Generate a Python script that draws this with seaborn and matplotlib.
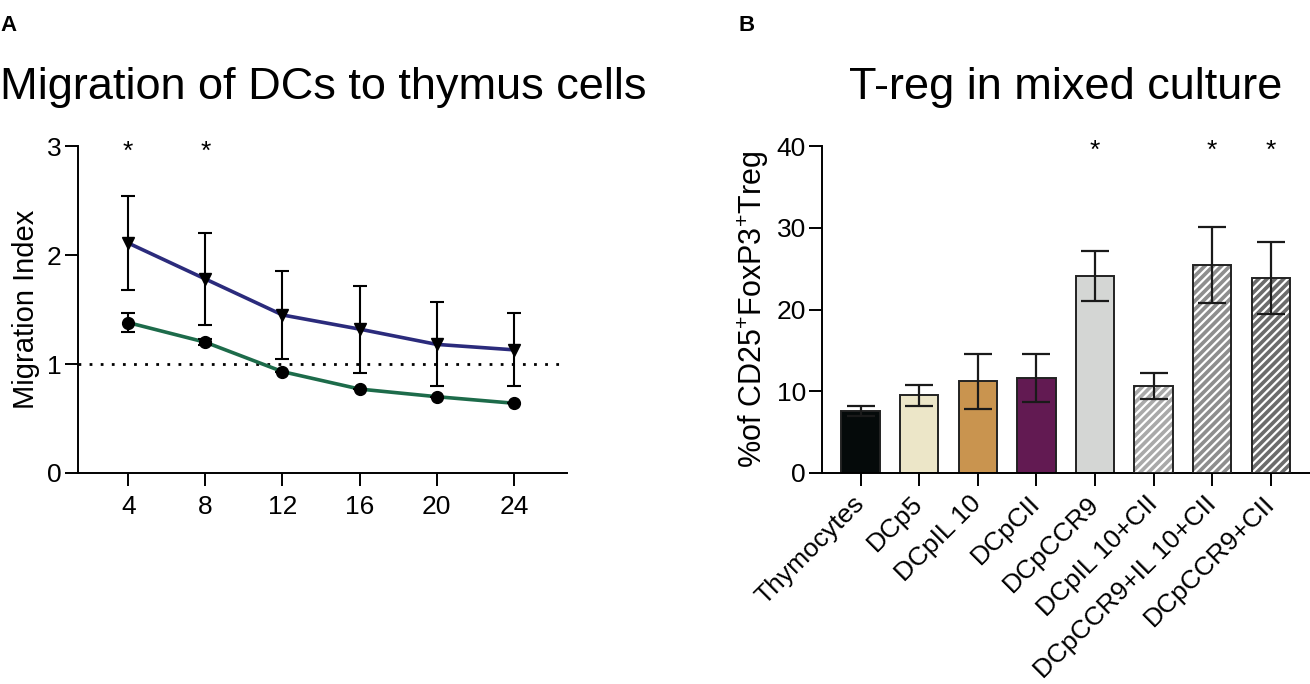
import matplotlib
matplotlib.use("Agg")
import matplotlib.pyplot as plt
import numpy as np
import pandas as pd
import seaborn as sns

# Panel A data: migration index over time
hours = [4, 8, 12, 16, 20, 24]
upper_mean = [2.11, 1.78, 1.45, 1.32, 1.18, 1.13]
upper_err = [0.43, 0.42, 0.40, 0.40, 0.385, 0.335]
lower_mean = [1.38, 1.20, 0.93, 0.77, 0.70, 0.64]
lower_err = [0.09, 0.03, 0.0, 0.0, 0.0, 0.0]
star_hours = [4, 8]

# Panel B data: Treg percentages
groups = ["Thymocytes", "DCp5", "DCpIL10", "DCpCII", "DCpCCR9",
          "DCpIL10+CII", "DCpCCR9+IL10+CII", "DCpCCR9+CII"]
tick_labels = ["Thymocytes", "DCp5", "DCpIL 10", "DCpCII", "DCpCCR9",
               "DCpIL 10+CII", "DCpCCR9+IL 10+CII", "DCpCCR9+CII"]
treg_mean = [7.6, 9.5, 11.2, 11.6, 24.1, 10.65, 25.4, 23.9]
treg_err = [0.65, 1.25, 3.4, 2.95, 3.05, 1.6, 4.65, 4.4]
bar_colors = ["#050a0a", "#ece6c8", "#c9944f", "#621a52", "#d4d6d4",
              "#a9a9a9", "#8e8e8e", "#6c6c6c"]
hatched = [False, False, False, False, False, True, True, True]
star_groups = ["DCpCCR9", "DCpCCR9+IL10+CII", "DCpCCR9+CII"]

sns.set_style("ticks")
plt.rcParams['font.family'] = ['Liberation Sans', 'DejaVu Sans']
plt.rcParams['mathtext.fontset'] = 'custom'
plt.rcParams['mathtext.rm'] = 'Liberation Sans'
for k in ['text.color', 'axes.labelcolor', 'xtick.color', 'ytick.color',
          'axes.edgecolor']:
    plt.rcParams[k] = 'black'
plt.rcParams['axes.linewidth'] = 1.4
plt.rcParams['hatch.linewidth'] = 1.6

fig = plt.figure(figsize=(13.1, 6.84), dpi=100)
ax1 = fig.add_axes([0.0593, 0.3085, 0.3733, 0.478])
ax2 = fig.add_axes([0.6273, 0.3085, 0.3727, 0.478])

# ---- Panel A
df_a = pd.DataFrame({"hours": hours * 2,
                     "value": upper_mean + lower_mean,
                     "group": ["up"] * 6 + ["low"] * 6})
sns.lineplot(data=df_a, x="hours", y="value", hue="group",
             palette={"up": "#2b2b7c", "low": "#1d6b4a"},
             linewidth=2.6, legend=False, ax=ax1, zorder=2)
ax1.errorbar(hours, upper_mean, yerr=upper_err, fmt='v', color='black',
             ms=9, elinewidth=1.5, capsize=5, capthick=1.5, zorder=3)
ax1.errorbar(hours, lower_mean, yerr=lower_err, fmt='o', color='black',
             ms=8.5, elinewidth=1.5, capsize=5, capthick=1.5, zorder=3)
ax1.axhline(1, color='black', ls=(0, (1, 3)), lw=2, zorder=1)
for h in star_hours:
    ax1.text(h, 2.95, "*", ha='center', va='center', fontsize=19)

ax1.set_xlim(1.38, 26.74)
ax1.set_ylim(0, 3)
ax1.set_xticks(hours)
ax1.set_yticks([0, 1, 2, 3])
ax1.set_xlabel("")
ax1.set_ylabel("Migration Index", fontsize=21, labelpad=5)
ax1.tick_params(labelsize=19, length=9.5, width=1.4)
ax1.tick_params(axis='y', pad=2)
ax1.tick_params(axis='x', pad=6)
sns.despine(ax=ax1)
fig.text(0.0, 0.855, "Migration of DCs to thymus cells",
         fontsize=32.5, ha='left', va='baseline')

# ---- Panel B
df_b = pd.DataFrame({"group": groups, "value": treg_mean})
sns.barplot(data=df_b, x="group", y="value", hue="group", palette=bar_colors,
            order=groups, errorbar=None, width=0.656, legend=False,
            edgecolor="#222222", linewidth=1.4, saturation=1, ax=ax2, zorder=2)
for patch, h in zip(ax2.patches, hatched):
    if h:
        patch.set_hatch("////")
        patch.set_edgecolor("white")
        patch.set_linewidth(0)
ax2.bar([i for i, h in enumerate(hatched) if h],
        [m for m, h in zip(treg_mean, hatched) if h], width=0.656,
        fill=False, edgecolor="#222222", linewidth=1.4, zorder=3)
ax2.errorbar(range(len(groups)), treg_mean, yerr=treg_err, fmt='none',
             ecolor='#1a1a1a', elinewidth=1.6, capsize=10, capthick=1.6,
             zorder=4)
for g in star_groups:
    ax2.text(groups.index(g), 39.4, "*", ha='center', va='center', fontsize=19)

ax2.set_xlim(-0.662, 7.67)
ax2.set_ylim(0, 40)
ax2.set_yticks([0, 10, 20, 30, 40])
ax2.set_xticks(range(len(groups)))
ax2.set_xticklabels(tick_labels, rotation=45, ha='right', va='center',
                    rotation_mode='anchor', fontsize=19)
ax2.set_xlabel("")
ax2.set_ylabel(r"%of CD25$^{+}$FoxP3$^{+}$Treg", fontsize=22, labelpad=4)
ax2.tick_params(axis='y', labelsize=19, length=9.5, width=1.4, pad=2)
ax2.tick_params(axis='x', length=9.5, width=1.4, pad=10)
sns.despine(ax=ax2)
fig.text(0.8137, 0.855, "T-reg in mixed culture", fontsize=32.5,
         ha='center', va='baseline')

fig.text(0.0, 0.978, "A", fontsize=16, fontweight='bold', va='top')
fig.text(0.564, 0.978, "B", fontsize=16, fontweight='bold', va='top')

fig.savefig("out.png", dpi=100)
